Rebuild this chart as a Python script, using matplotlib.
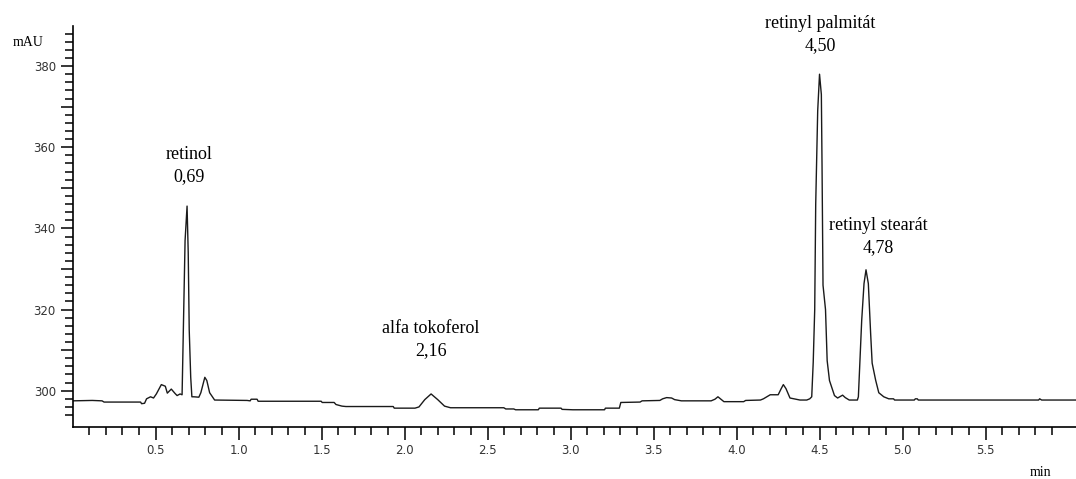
import matplotlib
matplotlib.use("Agg")
import matplotlib.pyplot as plt
from matplotlib.ticker import FixedLocator, FuncFormatter

# chromatogram trace: retention time (min) and detector signal (mAU)
time_min = [
    0.000, 0.119, 0.178, 0.190, 0.410, 0.416, 0.434, 0.446, 0.470, 0.488,
    0.505, 0.535, 0.559, 0.571, 0.595, 0.618, 0.630, 0.648, 0.660,
    0.663, 0.669, 0.678, 0.690, 0.697, 0.703, 0.712, 0.719,
    0.731, 0.761, 0.773, 0.797, 0.809, 0.826, 0.856, 1.052, 1.070, 1.076,
    1.112, 1.118, 1.498, 1.504, 1.576, 1.587, 1.605, 1.623, 1.647, 1.932,
    1.938, 2.063, 2.087, 2.122, 2.160, 2.200, 2.241, 2.277, 2.598, 2.610,
    2.658, 2.669, 2.806, 2.812, 2.943, 2.949, 3.014, 3.205, 3.210, 3.294,
    3.303, 3.419, 3.431, 3.538, 3.555, 3.579, 3.609, 3.627, 3.668, 3.847,
    3.870, 3.888, 3.906, 3.924, 4.043, 4.055, 4.144, 4.162, 4.203, 4.251,
    4.269, 4.282, 4.298, 4.322, 4.382, 4.423, 4.441, 4.453, 4.462,
    4.471, 4.477, 4.489, 4.500, 4.511, 4.515, 4.521, 4.536, 4.546, 4.560,
    4.590, 4.609, 4.626, 4.639, 4.655, 4.679, 4.728, 4.734, 4.743, 4.754,
    4.768, 4.780, 4.794, 4.808, 4.817, 4.838, 4.857, 4.887, 4.917, 4.946,
    4.952, 5.071, 5.077, 5.089, 5.095, 5.820, 5.826, 5.838, 6.050,
]
signal_mau = [
    297.5, 297.6, 297.5, 297.2, 297.2, 296.8, 296.9, 298.0, 298.5, 298.2,
    299.2, 301.5, 301.1, 299.4, 300.4, 299.3, 298.8, 299.2, 299.0,
    305.0, 318.0, 337.0, 345.5, 334.0, 315.0, 303.3, 298.5,
    298.5, 298.4, 299.5, 303.3, 302.5, 299.5, 297.7, 297.6, 297.5, 297.9,
    297.9, 297.4, 297.4, 297.1, 297.1, 296.6, 296.4, 296.2, 296.1, 296.1,
    295.7, 295.7, 296.0, 297.8, 299.2, 297.8, 296.2, 295.8, 295.8, 295.5,
    295.5, 295.3, 295.3, 295.7, 295.7, 295.4, 295.3, 295.3, 295.7, 295.7,
    297.1, 297.2, 297.5, 297.6, 298.0, 298.3, 298.2, 297.8, 297.5, 297.5,
    297.9, 298.5, 297.9, 297.3, 297.3, 297.6, 297.7, 298.0, 299.0, 299.0,
    300.5, 301.5, 300.5, 298.2, 297.7, 297.7, 298.0, 298.5, 307.0,
    320.0, 346.0, 369.0, 378.0, 373.0, 356.0, 326.0, 320.0, 307.4, 302.5,
    298.8, 298.2, 298.6, 298.9, 298.3, 297.7, 297.7, 298.5, 306.8, 317.3,
    326.4, 329.8, 326.4, 314.0, 306.8, 302.6, 299.5, 298.5, 298.0, 298.0,
    297.7, 297.7, 298.0, 298.0, 297.7, 297.7, 298.0, 297.7, 297.7,
]

# labelled peaks
peak_names = ["retinol", "alfa tokoferol", "retinyl palmitát", "retinyl stearát"]
peak_times = [0.69, 2.16, 4.50, 4.78]
peak_heights = [345.5, 299.2, 378.0, 329.8]
label_dx = [2, 0, 1, 12]  # pixels
label_dy = [21, 35, 20, 14]

x_major = [0.5, 1.0, 1.5, 2.0, 2.5, 3.0, 3.5, 4.0, 4.5, 5.0, 5.5]
x_minor = [i / 10 for i in range(1, 60)]
y_major = [300, 310, 320, 330, 340, 350, 360, 370, 380]
y_minor = list(range(294, 390, 2))

fig = plt.figure(figsize=(10.76, 4.79), dpi=100)
ax = fig.add_axes([0.0674, 0.1081, 0.9326, 0.8386])

ax.plot(time_min, signal_mau, color="#1a1a1a", lw=1.0)

ax.set_xlim(0, 6.045)
ax.set_ylim(291, 390)

for s in ("top", "right"):
    ax.spines[s].set_visible(False)
for s in ("left", "bottom"):
    ax.spines[s].set_linewidth(1.2)

ax.xaxis.set_major_locator(FixedLocator(x_major))
ax.xaxis.set_minor_locator(FixedLocator(x_minor))
ax.yaxis.set_major_locator(FixedLocator(y_major))
ax.yaxis.set_minor_locator(FixedLocator(y_minor))
ax.xaxis.set_major_formatter(FuncFormatter(lambda v, p: f"{v:.1f}"))
ax.yaxis.set_major_formatter(FuncFormatter(lambda v, p: f"{v:.0f}" if v % 20 == 0 else ""))

ax.tick_params(which="major", direction="out", length=9, width=1.1, color="black",
               labelsize=8.5, labelcolor="#333333", pad=3)
ax.tick_params(which="minor", direction="out", length=5.5, width=1.1, color="black")

for name, t, h, dx, dy in zip(peak_names, peak_times, peak_heights, label_dx, label_dy):
    ax.annotate(f"{name}\n{t:.2f}".replace(".", ","), xy=(t, h),
                xytext=(dx, dy), textcoords="offset pixels",
                ha="center", va="bottom", fontsize=13,
                family="Liberation Serif", linespacing=1.4)

fig.text(28 / 1076, 1 - 42 / 479, "mAU", ha="center", va="center",
         fontsize=10, family="Liberation Serif")
fig.text(1041 / 1076, 1 - 472 / 479, "min", ha="center", va="center",
         fontsize=10, family="Liberation Serif")

fig.savefig("out.png", dpi=100)
